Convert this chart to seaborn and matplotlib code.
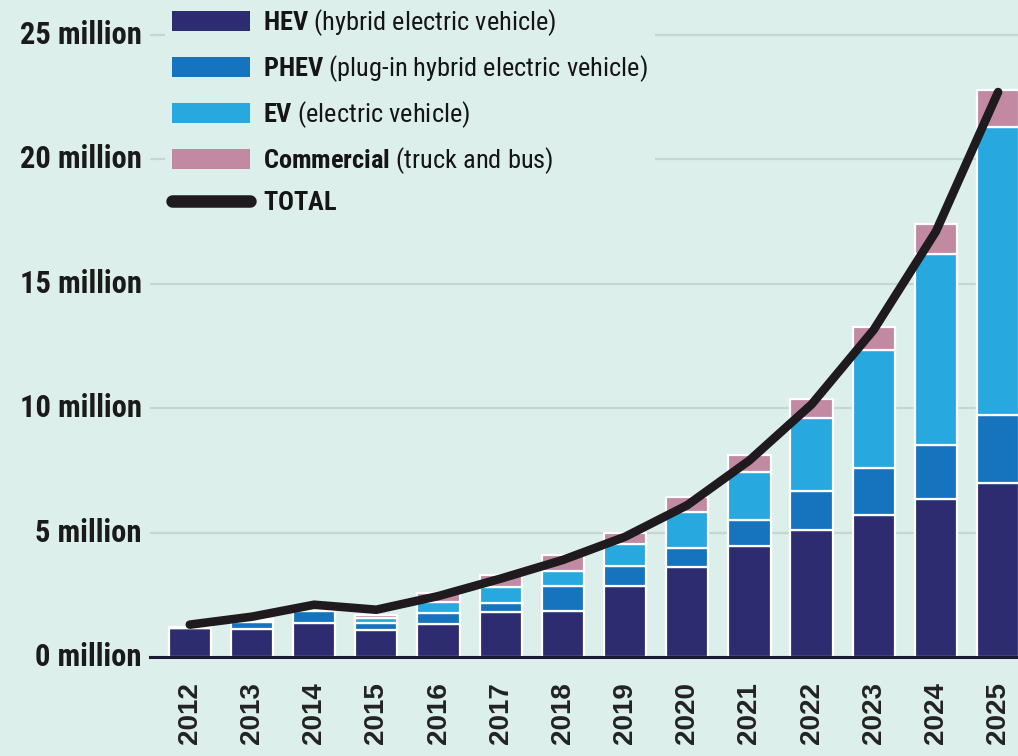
import matplotlib
matplotlib.use("Agg")
import matplotlib.pyplot as plt
import matplotlib.transforms as mtransforms
import numpy as np
import seaborn as sns
from matplotlib import font_manager
from matplotlib.lines import Line2D
from matplotlib.patches import Patch

# values in millions
YEARS = ["2012", "2013", "2014", "2015", "2016", "2017", "2018",
         "2019", "2020", "2021", "2022", "2023", "2024", "2025"]
HEV = [1.18, 1.12, 1.35, 1.10, 1.34, 1.82, 1.85, 2.85, 3.60, 4.45, 5.11, 5.71, 6.36, 7.00]
PHEV = [0.00, 0.28, 0.50, 0.27, 0.42, 0.35, 1.00, 0.81, 0.76, 1.05, 1.57, 1.89, 2.17, 2.74]
EV = [0.00, 0.10, 0.08, 0.20, 0.43, 0.63, 0.62, 0.89, 1.48, 1.92, 2.94, 4.75, 7.67, 11.56]
COMMERCIAL = [0.02, 0.03, 0.05, 0.12, 0.40, 0.50, 0.63, 0.45, 0.60, 0.68, 0.76, 0.93, 1.18, 1.50]
TOTAL = [1.30, 1.62, 2.10, 1.90, 2.45, 3.15, 3.90, 4.83, 6.10, 7.90, 10.15, 13.15, 17.10, 22.70]

Y_TICKS = [0, 5, 10, 15, 20, 25]
Y_LABELS = [f"{v} million" for v in Y_TICKS]

SERIES = [
    ("HEV", "hybrid electric vehicle", HEV, "#2e2c70"),
    ("PHEV", "plug-in hybrid electric vehicle", PHEV, "#1673bd"),
    ("EV", "electric vehicle", EV, "#27a8df"),
    ("Commercial", "truck and bus", COMMERCIAL, "#c18aa2"),
]

BG = "#ddefea"
LINE_COLOR = "#1e1a1e"

# pick a condensed face if one is installed
names = {f.name for f in font_manager.fontManager.ttflist}
narrow = next(
    (n for n in ["Roboto Condensed", "Liberation Sans Narrow", "Open Sans Condensed",
                 "DejaVu Sans Condensed"] if n in names),
    None,
)
label_font = narrow or "DejaVu Sans"
ytick_size = 22 if narrow else 17
legend_size = 19 if narrow else 15

sns.set_theme(style="white")
plt.rcParams["font.family"] = [label_font, "DejaVu Sans"]
plt.rcParams["mathtext.fontset"] = "custom"
plt.rcParams["mathtext.rm"] = label_font
plt.rcParams["mathtext.bf"] = f"{label_font}:bold"

fig = plt.figure(figsize=(10.18, 7.56), dpi=100, facecolor=BG)
ax = fig.add_axes([150 / 1018, 1 - 657 / 756, 1 - 150 / 1018, 657 / 756])
ax.set_facecolor(BG)

x = np.arange(len(YEARS))
bottom = np.zeros(len(YEARS))
for name, _, vals, color in SERIES:
    sns.barplot(
        x=YEARS, y=vals, bottom=bottom, color=color, width=0.68,
        edgecolor="white", linewidth=1.6, saturation=1, ax=ax, zorder=2,
    )
    bottom = bottom + np.asarray(vals)

sns.lineplot(
    x=x, y=TOTAL, color=LINE_COLOR, linewidth=6.2, ax=ax,
    solid_capstyle="round", solid_joinstyle="round", zorder=4,
)

ax.set_xlim(-0.64, 13.32)
ax.set_ylim(0, 26.4)
ax.set_yticks(Y_TICKS)
ax.set_yticklabels(Y_LABELS, fontsize=ytick_size, fontweight="bold",
                   color="#1a1a1a", va="center", fontstretch="condensed")
# labels sit a few pixels above their grid lines
lift = mtransforms.ScaledTranslation(0, 5 / 100, fig.dpi_scale_trans)
for lab in ax.get_yticklabels():
    lab.set_transform(lab.get_transform() + lift)
ax.set_xticks(x)
ax.set_xticklabels(YEARS, rotation=90, fontsize=20, fontweight="bold",
                   color="#222222", family="Liberation Sans")
ax.tick_params(axis="x", length=0, pad=18)
ax.tick_params(axis="y", length=0, pad=6)
ax.set_xlabel("")
ax.set_ylabel("")

ax.yaxis.grid(True, color="#c6d6d2", linewidth=1.6, zorder=0)
ax.set_axisbelow(True)
for side in ["top", "right", "left"]:
    ax.spines[side].set_visible(False)
ax.spines["bottom"].set_color("#1c1b35")
ax.spines["bottom"].set_linewidth(2.2)
ax.spines["bottom"].set_zorder(5)

handles = [Patch(facecolor=c, edgecolor="none") for _, _, _, c in SERIES]
handles.append(Line2D([0], [0], color=LINE_COLOR, linewidth=9, solid_capstyle="round"))
labels = [rf"$\mathbf{{{n}}}$ ({d})" for n, d, _, _ in SERIES]
labels.append(r"$\mathbf{TOTAL}$")

leg = ax.legend(
    handles, labels, loc="upper left", bbox_to_anchor=(0.162, 1.0),
    bbox_transform=fig.transFigure, frameon=True, facecolor=BG, edgecolor="none",
    framealpha=1, fontsize=legend_size, handlelength=2.95, handleheight=0.76,
    handletextpad=0.5, labelspacing=0.57, borderpad=0.27, borderaxespad=0,
)
for t in leg.get_texts():
    t.set_color("#151515")
leg.set_zorder(6)

fig.savefig("out.png", dpi=100, facecolor=BG)
